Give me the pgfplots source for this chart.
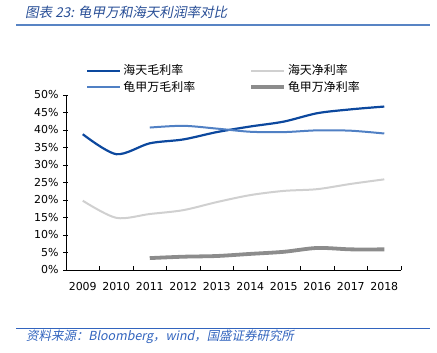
\documentclass[border=0pt]{standalone}
\usepackage{fontspec}
\setmainfont{DejaVu Sans}
\newfontfamily\cjk{Noto Sans CJK SC}
\newfontfamily\cjkit{Noto Sans CJK SC}[FakeSlant=0.2]
\usepackage{pgfplots}
\pgfplotsset{compat=1.18}
\definecolor{titleblue}{RGB}{40,78,150}
\definecolor{ruleblue}{RGB}{88,132,196}
\definecolor{srcblue}{RGB}{50,100,190}
\definecolor{htgross}{RGB}{12,72,158}
\definecolor{kkgross}{RGB}{80,128,196}
\definecolor{htnet}{RGB}{208,208,208}
\definecolor{kknet}{RGB}{140,140,140}
\begin{document}
\begin{tikzpicture}[x=1bp,y=1bp]
\path[use as bounding box] (0,0) rectangle (437,352);
\node[anchor=west, inner sep=0, text=titleblue, font=\fontsize{13.6}{15}\selectfont\cjkit] at (25,340) {图表 23: 龟甲万和海天利润率对比};
\draw[ruleblue, line width=2bp] (16,327.5) -- (430,327.5);
\draw[srcblue, line width=0.8bp] (16,24) -- (430,24);
\node[anchor=west, inner sep=0, text=srcblue, font=\fontsize{12.5}{14}\selectfont\cjkit] at (26,15) {资料来源：Bloomberg，wind，国盛证券研究所};
\begin{axis}[
  at={(66bp,82bp)}, anchor=south west,
  scale only axis, width=335bp, height=175bp,
  xmin=-0.5, xmax=9.5, ymin=0, ymax=50,
  axis x line*=bottom, axis y line*=left,
  axis line style={black, line width=0.8bp, -},
  xtick={-0.5,0.5,...,9.5},
  x tick label as interval,
  xticklabels={2009,2010,2011,2012,2013,2014,2015,2016,2017,2018},
  ytick={0,5,...,50},
  yticklabels={0\%,5\%,10\%,15\%,20\%,25\%,30\%,35\%,40\%,45\%,50\%},
  tick align=inside,
  major tick length=4.5bp,
  tick style={black, line width=0.8bp},
  ytick style={xshift=-3bp},
  tick label style={font=\fontsize{11}{13}\selectfont},
  xticklabel style={yshift=-9bp},
  yticklabel style={xshift=-4bp},
  legend columns=2,
  legend cell align=left,
  legend style={at={(0.06,1.185)}, anchor=north west, draw=none, fill=none,
    font=\fontsize{12}{14}\selectfont\cjk, inner sep=0pt, row sep=1bp,
    /tikz/every even column/.append style={column sep=52bp}},
  legend image code/.code={\draw[#1] (0bp,0bp) -- (33bp,0bp);},
]
\addplot[htgross, line width=2.2bp, smooth] coordinates {
(0,38.8) (1,33.1) (2,36.2) (3,37.3) (4,39.4) (5,41.0) (6,42.4) (7,44.8) (8,45.9) (9,46.7)};
\addlegendentry{海天毛利率}
\addplot[htnet, line width=2bp, smooth] coordinates {
(0,19.8) (1,14.9) (2,16.0) (3,17.1) (4,19.4) (5,21.4) (6,22.6) (7,23.1) (8,24.6) (9,25.9)};
\addlegendentry{海天净利率}
\addplot[kkgross, line width=2bp, smooth] coordinates {
(2,40.7) (3,41.2) (4,40.4) (5,39.5) (6,39.4) (7,39.9) (8,39.8) (9,39.0)};
\addlegendentry{龟甲万毛利率}
\addplot[kknet, line width=3.8bp, smooth] coordinates {
(2,3.4) (3,3.8) (4,4.0) (5,4.6) (6,5.2) (7,6.3) (8,5.9) (9,5.9)};
\addlegendentry{龟甲万净利率}
\end{axis}
\end{tikzpicture}
\end{document}
